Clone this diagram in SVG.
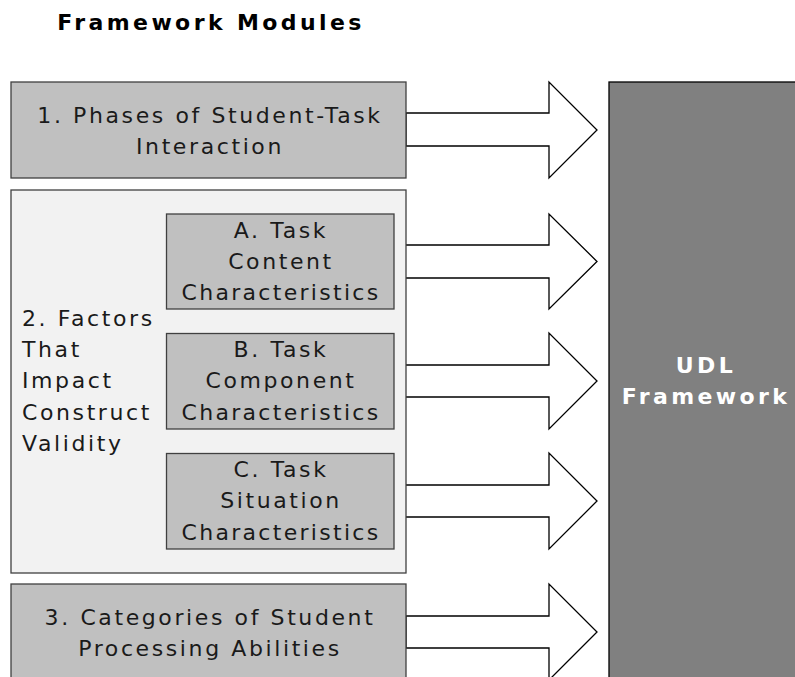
<svg xmlns="http://www.w3.org/2000/svg" width="795" height="677" viewBox="0 0 795 677">
  <style>
    .box { fill: #c0c0c0; stroke: #404040; stroke-width: 1.3; }
    .group { fill: #f2f2f2; stroke: #404040; stroke-width: 1.3; }
    .udl { fill: #808080; stroke: #000000; stroke-width: 1.3; }
    .arrow { fill: #ffffff; stroke: #000000; stroke-width: 1.3; stroke-linejoin: miter; }
    .t { font-family: "DejaVu Sans", Verdana, sans-serif; font-size: 22px; fill: #1a1a1a; letter-spacing: 2.6px; }
    .c { text-anchor: middle; }
    .narrow { letter-spacing: 2.3px; }
    .title { font-family: "DejaVu Sans", Verdana, sans-serif; font-size: 22px; font-weight: bold; fill: #000000; text-anchor: middle; letter-spacing: 3.4px; }
    .w { font-family: "DejaVu Sans", Verdana, sans-serif; font-size: 22px; font-weight: bold; fill: #ffffff; text-anchor: middle; letter-spacing: 3.4px; }
  </style>
  <rect width="795" height="677" fill="#ffffff"/>

  <text class="title" x="211" y="30">Framework Modules</text>

  <g id="connectors">
    <polygon class="arrow" points="406,113 549,113 549,82 597,130 549,178 549,146 406,146"/>
    <polygon class="arrow" points="394,245 549,245 549,214 597,261.5 549,309 549,278 394,278"/>
    <polygon class="arrow" points="394,365 549,365 549,333 597,381 549,429 549,397 394,397"/>
    <polygon class="arrow" points="394,485 549,485 549,453 597,501 549,549 549,517 394,517"/>
    <polygon class="arrow" points="406,616 549,616 549,584 597,632 549,680 549,648 406,648"/>
  </g>

  <g id="udl-framework">
    <rect class="udl" x="609" y="82" width="200" height="610"/>
    <text class="w" x="706" y="373">UDL</text>
    <text class="w" x="706" y="404">Framework</text>
  </g>

  <g id="phases">
    <rect class="box" x="11" y="82" width="395" height="96"/>
    <text class="t c" x="210" y="123">1. Phases of Student-Task</text>
    <text class="t c" x="210" y="154">Interaction</text>
  </g>

  <g id="factors">
    <rect class="group" x="11" y="190" width="395" height="383"/>
    <text class="t" x="22" y="326">2. Factors</text>
    <text class="t" x="22" y="357">That</text>
    <text class="t" x="22" y="388">Impact</text>
    <text class="t" x="22" y="420">Construct</text>
    <text class="t" x="22" y="451">Validity</text>
  </g>

  <g id="task-content">
    <rect class="box" x="166.5" y="214" width="227.5" height="95"/>
    <text class="t c" x="281" y="238">A. Task</text>
    <text class="t c" x="281" y="269">Content</text>
    <text class="t c narrow" x="281" y="300">Characteristics</text>
  </g>

  <g id="task-component">
    <rect class="box" x="166.5" y="333.5" width="227.5" height="95.5"/>
    <text class="t c" x="281" y="357">B. Task</text>
    <text class="t c" x="281" y="388">Component</text>
    <text class="t c narrow" x="281" y="419.5">Characteristics</text>
  </g>

  <g id="task-situation">
    <rect class="box" x="166.5" y="453.5" width="227.5" height="95.5"/>
    <text class="t c" x="281" y="477">C. Task</text>
    <text class="t c" x="281" y="508">Situation</text>
    <text class="t c narrow" x="281" y="539.5">Characteristics</text>
  </g>

  <g id="processing-abilities">
    <rect class="box" x="11" y="584" width="395" height="110"/>
    <text class="t c" x="210" y="625">3. Categories of Student</text>
    <text class="t c" x="210" y="656">Processing Abilities</text>
  </g>
</svg>
